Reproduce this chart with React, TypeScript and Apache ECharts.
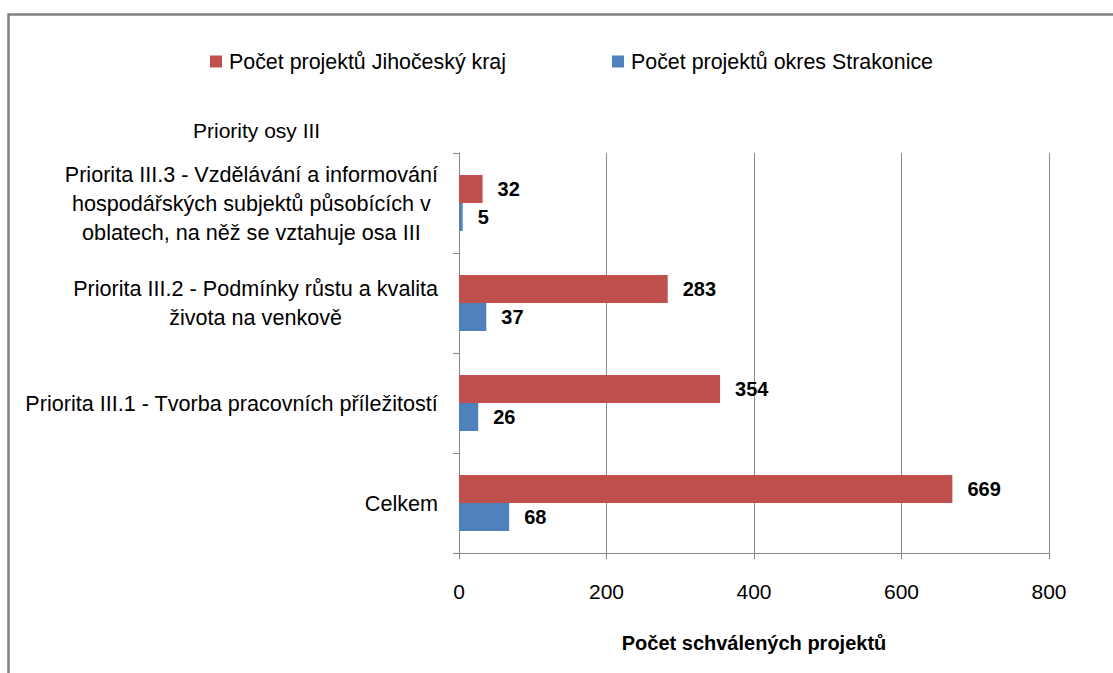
import React, { useEffect, useRef } from "react";
import * as echarts from "echarts";

const categories = [
  "Celkem",
  "Priorita III.1 - Tvorba pracovních příležitostí",
  "Priorita III.2 - Podmínky růstu a kvalita\nživota na venkově",
  "Priorita III.3 - Vzdělávání a informování\nhospodářských subjektů působících v\noblatech, na něž se vztahuje osa III",
];
const seriesNames = ["Počet projektů Jihočeský kraj", "Počet projektů okres Strakonice"];
const krajValues = [669, 354, 283, 32];
const okresValues = [68, 26, 37, 5];
const xTicks = { min: 0, max: 800, interval: 200 };
const xAxisTitle = "Počet schválených projektů";
const yAxisTitle = "Priority osy III";

const FONT = "'Liberation Sans', Arial, sans-serif";
const GRAY = "#868686";

export default function App() {
  const ref = useRef<HTMLDivElement>(null);
  useEffect(() => {
    if (!ref.current) return;
    const chart = echarts.init(ref.current, undefined, { renderer: "svg" });
    const labelStyle = {
      show: true,
      position: "right",
      distance: 15,
      fontFamily: FONT,
      fontSize: 20,
      fontWeight: "bold",
      color: "#000",
    };
    chart.setOption({
      animation: false,
      backgroundColor: "#fff",
      textStyle: { fontFamily: FONT },
      title: {
        text: yAxisTitle,
        left: 193,
        top: 120,
        padding: 0,
        textStyle: { fontFamily: FONT, fontSize: 21, fontWeight: "normal", color: "#000" },
      },
      graphic: [
        {
          type: "rect",
          shape: { x: 8.5, y: 14.5, width: 1300, height: 900 },
          style: { fill: "none", stroke: "#808080", lineWidth: 2.5 },
          silent: true,
        },
      ],
      legend: [
        {
          data: [seriesNames[0]],
          left: 210,
          top: 51,
          icon: "rect",
          itemWidth: 12,
          itemHeight: 12,
          itemGap: 0,
          padding: 0,
          textStyle: { fontFamily: FONT, fontSize: 21.4, color: "#000", padding: [0, 0, 0, 2] },
        },
        {
          data: [seriesNames[1]],
          left: 612,
          top: 51,
          icon: "rect",
          itemWidth: 12,
          itemHeight: 12,
          itemGap: 0,
          padding: 0,
          textStyle: { fontFamily: FONT, fontSize: 21.4, color: "#000", padding: [0, 0, 0, 2] },
        },
      ],
      grid: { left: 459, right: 64, top: 153, bottom: 120, containLabel: false },
      xAxis: {
        type: "value",
        min: xTicks.min,
        max: xTicks.max,
        interval: xTicks.interval,
        name: xAxisTitle,
        nameLocation: "middle",
        nameGap: 80,
        nameTextStyle: { fontFamily: FONT, fontSize: 20, fontWeight: "bold", color: "#000" },
        axisLine: { show: true, lineStyle: { color: GRAY, width: 1 } },
        axisTick: { show: true, length: 6, lineStyle: { color: GRAY } },
        axisLabel: { margin: 28, fontFamily: FONT, fontSize: 21, color: "#000" },
        splitLine: { show: true, lineStyle: { color: GRAY, width: 1 } },
      },
      yAxis: {
        type: "category",
        data: categories,
        axisLine: { show: true, lineStyle: { color: GRAY, width: 1 } },
        axisTick: { show: true, length: 6, lineStyle: { color: GRAY } },
        axisLabel: {
          margin: 21,
          fontFamily: FONT,
          fontSize: 21.6,
          color: "#000",
          lineHeight: 29,
          formatter: (v: string) =>
            v
              .split("\n")
              .map((l) => `{c|${l}}`)
              .join("\n"),
          rich: {
            c: { align: "center", fontFamily: FONT, fontSize: 21.6, lineHeight: 29, color: "#000" },
          },
        },
        splitLine: { show: false },
      },
      series: [
        {
          name: seriesNames[0],
          type: "bar",
          data: krajValues,
          barWidth: 28,
          barGap: "0%",
          itemStyle: { color: "#C0504D" },
          label: labelStyle,
        },
        {
          name: seriesNames[1],
          type: "bar",
          data: okresValues,
          barWidth: 28,
          barGap: "0%",
          itemStyle: { color: "#4F81BD" },
          label: labelStyle,
        },
      ],
    });
    return () => chart.dispose();
  }, []);
  return (
    <div
      ref={ref}
      style={{ position: "fixed", left: 0, top: 0, width: 1113, height: 673 }}
    />
  );
}
